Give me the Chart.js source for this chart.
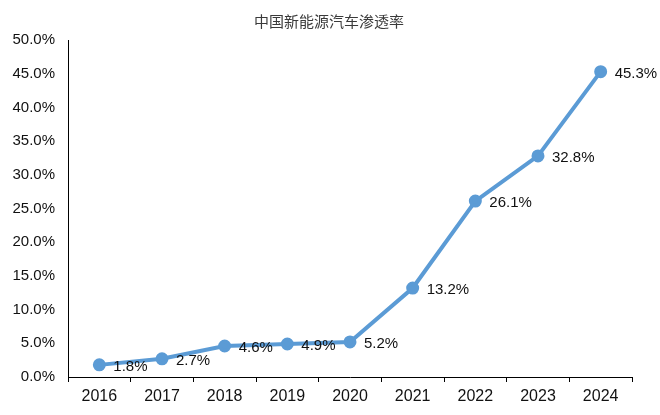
<!DOCTYPE html>
<html>
<head>
<meta charset="utf-8">
<script src="https://cdn.jsdelivr.net/npm/chart.js@4.4.0/dist/chart.umd.min.js"></script>
<style>
  html, body { margin: 0; padding: 0; background: #fff; }
  #wrap { width: 660px; height: 415px; }
</style>
</head>
<body>
<div id="wrap"><canvas id="chart" width="660" height="415"></canvas></div>
<script>
const title = "中国新能源汽车渗透率";
const years = ["2016", "2017", "2018", "2019", "2020", "2021", "2022", "2023", "2024"];
const penetration = [1.8, 2.7, 4.6, 4.9, 5.2, 13.2, 26.1, 32.8, 45.3];

// title + value labels drawn on the canvas
const textPlugin = {
  id: "textPlugin",
  afterDatasetsDraw(chart) {
    const ctx = chart.ctx;
    ctx.save();
    ctx.fillStyle = "#3a3a3a";
    ctx.font = "15px 'Noto Sans CJK SC'";
    ctx.textAlign = "center";
    ctx.textBaseline = "middle";
    ctx.fillText(title, 329, 21);

    ctx.fillStyle = "#111";
    ctx.font = "15px 'Liberation Sans', Arial";
    ctx.textAlign = "left";
    chart.getDatasetMeta(0).data.forEach((pt, i) => {
      ctx.fillText(penetration[i].toFixed(1) + "%", pt.x + 14, pt.y + 2);
    });
    ctx.restore();
  }
};

new Chart(document.getElementById("chart"), {
  type: "line",
  data: {
    labels: years,
    datasets: [{
      data: penetration,
      borderColor: "#5b9bd5",
      backgroundColor: "#5b9bd5",
      borderWidth: 4,
      pointRadius: 4.5,
      pointHoverRadius: 4.5,
      tension: 0,
    }],
  },
  options: {
    responsive: false,
    animation: false,
    layout: { padding: { top: 40, right: 28, left: 0, bottom: 0 } },
    plugins: { legend: { display: false }, tooltip: { enabled: false } },
    scales: {
      x: {
        offset: true,
        grid: { display: true, drawOnChartArea: false, offset: true, color: "#000", tickLength: 5, tickColor: "#000" },
        border: { color: "#000", width: 1 },
        ticks: { color: "#111", font: { size: 16, family: "'Liberation Sans', Arial" }, padding: 5, maxRotation: 0 },
        afterFit(s) { s.height = 38; },
      },
      y: {
        min: 0,
        max: 50,
        grid: { display: false, drawTicks: false },
        border: { color: "#000", width: 1 },
        ticks: {
          stepSize: 5,
          color: "#111",
          font: { size: 15, family: "'Liberation Sans', Arial" },
          padding: 13,
          callback: v => v.toFixed(1) + "%",
        },
        afterFit(s) { s.width = 68; },
      },
    },
  },
  plugins: [textPlugin],
});
</script>
</body>
</html>
